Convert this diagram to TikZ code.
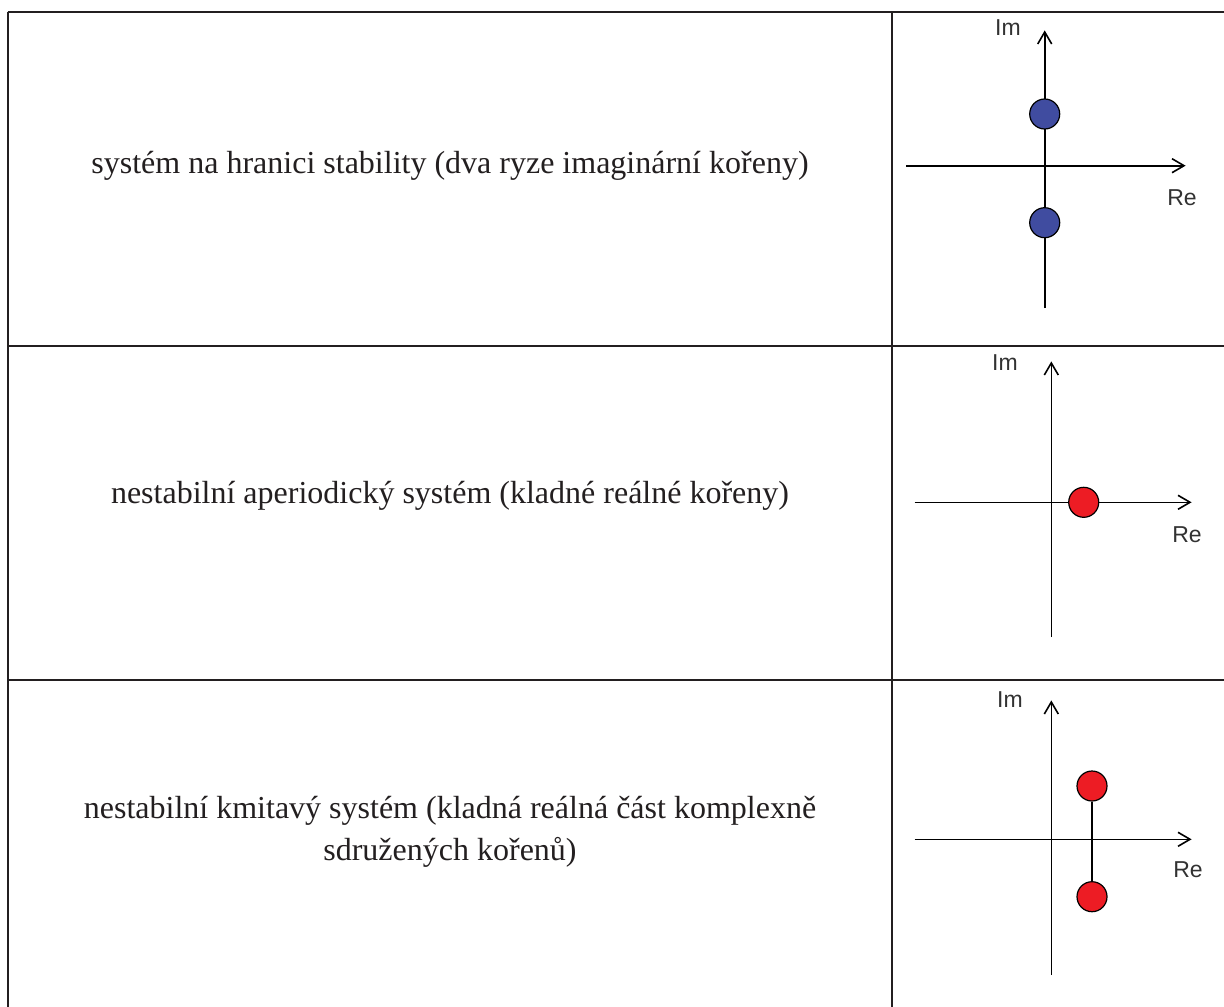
\documentclass[tikz,border=0pt]{standalone}
\usepackage{fontspec}
\setmainfont{Liberation Serif}
\newfontfamily\axisfont{Liberation Sans}
\definecolor{rule}{RGB}{35,31,32}
\definecolor{poleblue}{RGB}{64,76,160}
\definecolor{polered}{RGB}{237,28,36}
\definecolor{axislabel}{RGB}{50,50,50}
\tikzset{
  frame/.style={draw=rule, line width=1pt},
  axis/.style={draw=black, line width=0.8pt},
  pole/.style={circle, draw=black, line width=0.6pt, minimum size=15pt, inner sep=0pt},
  bluepole/.style={pole, fill=poleblue},
  redpole/.style={pole, fill=polered},
  desc/.style={font=\fontsize{16pt}{21pt}\selectfont, text=rule, align=center, anchor=base},
  axlab/.style={font=\axisfont\fontsize{11.5pt}{13pt}\selectfont, text=axislabel, inner sep=0pt}
}
\begin{document}
\begin{tikzpicture}[x=0.5pt, y=-0.5pt]
  \useasboundingbox (0,0) rectangle (1224,1006);
  \fill[white] (0,0) rectangle (1224,1006);

  % table grid
  \coordinate (tl) at (7.5,12);
  \coordinate (tr) at (1226,12);
  \coordinate (bl) at (7.5,1008);
  \coordinate (ct) at (892,12);
  \coordinate (cb) at (892,1008);
  \coordinate (r1l) at (7.5,345.5);
  \coordinate (r1r) at (1226,345.5);
  \coordinate (r2l) at (7.5,680);
  \coordinate (r2r) at (1226,680);
  \draw[frame] (tl) -- (tr);
  \draw[frame] (tl) -- (bl);
  \draw[frame] (ct) -- (cb);
  \draw[frame] (r1l) -- (r1r);
  \draw[frame] (r2l) -- (r2r);

  % descriptions
  \node[desc] (t1) at (450,173) {systém na hranici stability (dva ryze imaginární kořeny)};
  \node[desc] (t2) at (450,503) {nestabilní aperiodický systém (kladné reálné kořeny)};
  \node[desc] (t3a) at (450,818) {nestabilní kmitavý systém (kladná reálná část komplexně};
  \node[desc] (t3b) at (450,860) {sdružených kořenů)};

  % plot 1: purely imaginary pair
  \coordinate (im1b) at (1044.7,308);
  \coordinate (im1t) at (1044.7,32);
  \coordinate (re1l) at (906,165.7);
  \coordinate (re1r) at (1184,165.7);
  \draw[axis] (re1l) -- (re1r);
  \draw[axis] (re1r) ++(-12,-7) -- (re1r) -- ++(-12,7);
  \draw[axis] (im1b) -- (im1t);
  \draw[axis] (im1t) ++(-7,12) -- (im1t) -- ++(7,12);
  \node[bluepole] (p1a) at (1044.7,114) {};
  \node[bluepole] (p1b) at (1044.7,222.7) {};
  \node[axlab] (im1) at (1008,28) {Im};
  \node[axlab] (re1) at (1182,198) {Re};

  % plot 2: positive real root
  \coordinate (im2b) at (1051.3,637);
  \coordinate (im2t) at (1051.3,363);
  \coordinate (re2l) at (914.7,502.3);
  \coordinate (re2r) at (1190,502.3);
  \draw[axis] (re2l) -- (re2r);
  \draw[axis] (re2r) ++(-12,-7) -- (re2r) -- ++(-12,7);
  \draw[axis] (im2b) -- (im2t);
  \draw[axis] (im2t) ++(-7,12) -- (im2t) -- ++(7,12);
  \node[redpole] (p2) at (1083.7,502.3) {};
  \node[axlab] (im2) at (1005,363) {Im};
  \node[axlab] (re2) at (1187,535) {Re};

  % plot 3: complex pair with positive real part
  \coordinate (im3b) at (1051.3,975);
  \coordinate (im3t) at (1051.3,702);
  \coordinate (re3l) at (914.7,839.3);
  \coordinate (re3r) at (1190,839.3);
  \draw[axis] (re3l) -- (re3r);
  \draw[axis] (re3r) ++(-12,-7) -- (re3r) -- ++(-12,7);
  \draw[axis] (im3b) -- (im3t);
  \draw[axis] (im3t) ++(-7,12) -- (im3t) -- ++(7,12);
  \node[redpole] (p3a) at (1092,786) {};
  \node[redpole] (p3b) at (1092,896.7) {};
  \draw[axis] (p3a) -- (p3b);
  \node[axlab] (im3) at (1010,700) {Im};
  \node[axlab] (re3) at (1188,870) {Re};
\end{tikzpicture}
\end{document}
